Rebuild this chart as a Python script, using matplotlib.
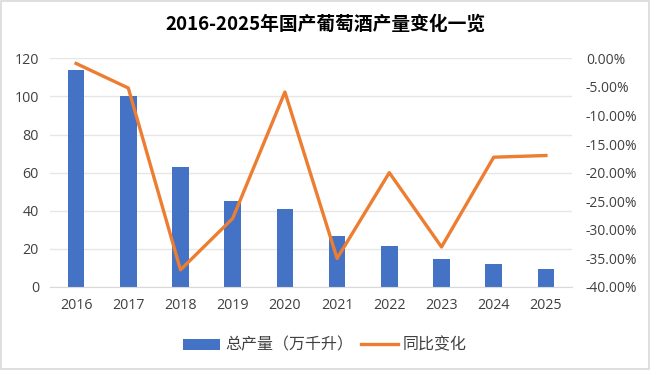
import matplotlib.pyplot as plt
from matplotlib.ticker import FuncFormatter
from matplotlib.patches import Rectangle

plt.rcParams['font.family'] = ['Noto Sans CJK SC', 'DejaVu Sans']

years = ['2016', '2017', '2018', '2019', '2020', '2021', '2022', '2023', '2024', '2025']
output = [113.7, 100.0, 63.0, 45.1, 41.1, 26.9, 21.5, 14.7, 12.2, 9.6]
yoy = [-0.9, -5.2, -37.0, -28.0, -5.9, -35.0, -20.0, -33.0, -17.3, -17.0]

fig = plt.figure(figsize=(6.5, 3.7), dpi=100)
fig.patches.append(Rectangle((0.002, 0.003), 0.996, 0.994, transform=fig.transFigure,
                             fill=False, edgecolor='#d9d9d9', linewidth=1.2))

ax = fig.add_axes([50 / 650, 83 / 370, 522 / 650, 228.7 / 370])
x = range(len(years))
bars = ax.bar(x, output, width=0.32, color='#4472C4', label='总产量（万千升）', zorder=2)
ax.set_ylim(0, 120)
ax.set_yticks(range(0, 121, 20))
ax.set_xlim(-0.5, len(years) - 0.5)
ax.set_xticks(list(x))
ax.set_xticklabels(years)
ax.grid(axis='y', color='#e6e6e6', linewidth=1, zorder=0)
for s in ['top', 'right', 'left']:
    ax.spines[s].set_visible(False)
ax.spines['bottom'].set_color('#d9d9d9')
ax.tick_params(length=0, labelsize=10.3, colors='#404040', pad=8)
for t in ax.get_xticklabels() + ax.get_yticklabels():
    t.set_family(['Open Sans', 'DejaVu Sans'])

ax2 = ax.twinx()
line, = ax2.plot(x, yoy, color='#ED7D31', linewidth=2.4, label='同比变化', zorder=3)
ax2.set_ylim(-40, 0)
ax2.set_yticks(range(-40, 1, 5))
ax2.yaxis.set_major_formatter(FuncFormatter(lambda v, p: '%.2f%%' % v))
for s in ax2.spines.values():
    s.set_visible(False)
ax2.tick_params(length=0, labelsize=10, colors='#404040', pad=10)
for t in ax2.get_yticklabels():
    t.set_family(['Open Sans', 'DejaVu Sans'])

fig.text(0.5, 0.935, '2016-2025年国产葡萄酒产量变化一览', ha='center', va='center',
         fontsize=13.5, fontweight='bold', color='#000000')

fig.legend([bars, line], ['总产量（万千升）', '同比变化'], loc='center', bbox_to_anchor=(0.5, 0.067),
           ncol=2, frameon=False, fontsize=11.5, handlelength=2.3, handletextpad=0.3,
           columnspacing=0.5, labelcolor='#404040')

fig.savefig('out.png', dpi=100)
